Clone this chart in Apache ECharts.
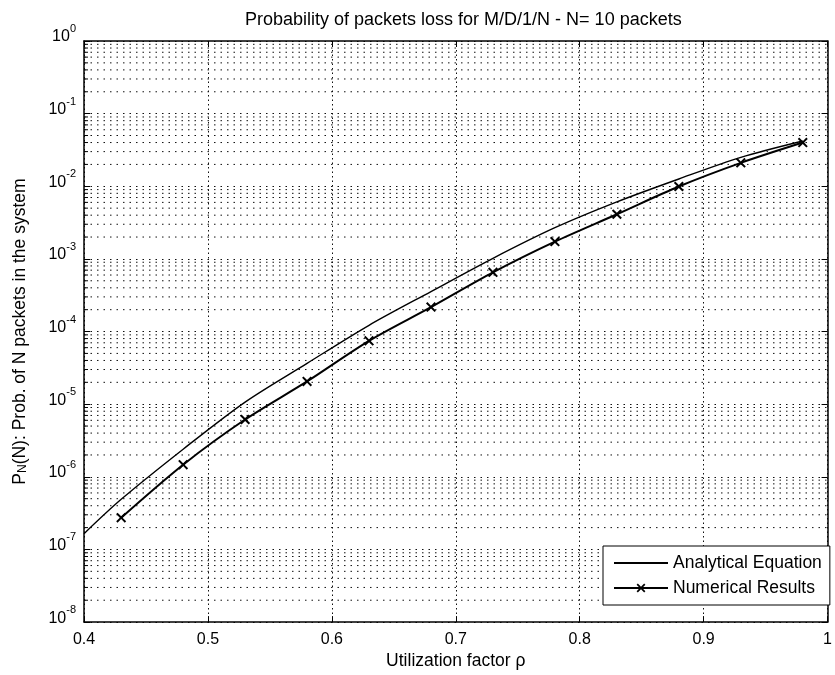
<!DOCTYPE html>
<html><head><meta charset="utf-8">
<script src="https://cdn.jsdelivr.net/npm/echarts@6/dist/echarts.min.js"></script>
<style>html,body{margin:0;padding:0;background:#fff}#c{width:835px;height:675px}</style>
</head><body><div id="c"></div>
<script>
// ---- data ----
const titleText = 'Probability of packets loss for M/D/1/N - N= 10 packets';
const xName = 'Utilization factor \u03c1';
const seriesNames = ['Analytical Equation', 'Numerical Results'];
const anaX = [0.40, 0.43, 0.48, 0.53, 0.58, 0.63, 0.68, 0.73, 0.78, 0.83, 0.88, 0.93, 0.98];
const anaY = [1.65e-7, 4.9e-7, 2.4e-6, 1.07e-5, 3.65e-5, 1.22e-4, 3.55e-4, 1.02e-3, 2.69e-3, 6.1e-3, 1.26e-2, 2.5e-2, 4.2e-2];
const numX = [0.43, 0.48, 0.53, 0.58, 0.63, 0.68, 0.73, 0.78, 0.83, 0.88, 0.93, 0.98];
const numY = [2.74e-7, 1.47e-6, 6.15e-6, 2.06e-5, 7.46e-5, 2.17e-4, 6.53e-4, 1.73e-3, 4.12e-3, 9.93e-3, 2.1e-2, 4.0e-2];
const xMin = 0.4, xMax = 1.0, xStep = 0.1;
const yMinExp = -8, yMaxExp = 0;
const minorMult = [2, 3, 4, 5, 6, 7, 8, 9];

const FONT = "'Liberation Sans', Arial, Helvetica, sans-serif";
const minorVals = [];
for (let k = yMinExp; k < yMaxExp; k++) minorMult.forEach(m => minorVals.push(m * Math.pow(10, k)));

const dotted = { color: '#111', width: 1, type: [1.5, 5] };

const chart = echarts.init(document.getElementById('c'), null, { renderer: 'canvas' });
chart.setOption({
  animation: false,
  backgroundColor: '#fff',
  textStyle: { fontFamily: FONT, color: '#000' },
  title: { text: titleText, left: 240, top: 6, textStyle: { fontFamily: FONT, fontSize: 18, fontWeight: 'normal', color: '#000' } },
  grid: { left: 84, right: -3, top: 41, bottom: 49, containLabel: false },
  legend: {
    orient: 'vertical', left: 603, top: 546,
    padding: [8, 8, 8, 10], itemGap: 7, itemWidth: 54, itemHeight: 11,
    backgroundColor: '#fff', borderColor: '#000', borderWidth: 1,
    textStyle: { fontFamily: FONT, fontSize: 17.5, color: '#000' },
    data: [{ name: seriesNames[0], itemStyle: { opacity: 0 } }, { name: seriesNames[1] }]
  },
  xAxis: [{
    type: 'value', min: xMin, max: xMax, interval: xStep,
    name: xName, nameLocation: 'middle', nameGap: 26,
    nameTextStyle: { fontFamily: FONT, fontSize: 17.5, color: '#000' },
    axisLine: { lineStyle: { color: '#000', width: 1.5 } },
    axisTick: { inside: true, length: 6, lineStyle: { color: '#000' } },
    axisLabel: { margin: 9, fontFamily: FONT, fontSize: 16, color: '#000', formatter: v => String(+v.toFixed(1)) },
    splitLine: { show: true, lineStyle: { color: '#111', width: 1, type: [1.5, 3] } }
  }, {
    type: 'value', min: xMin, max: xMax, interval: xStep, position: 'top',
    axisLine: { lineStyle: { color: '#000', width: 1.5 } },
    axisTick: { inside: true, length: 6, lineStyle: { color: '#000' } },
    axisLabel: { show: false }, splitLine: { show: false }
  }],
  yAxis: [{
    type: 'log', logBase: 10, min: Math.pow(10, yMinExp), max: Math.pow(10, yMaxExp), splitNumber: 8,
    name: 'P{sub|N}(N): Prob. of N packets in the system', nameLocation: 'middle', nameGap: 55,
    nameTextStyle: { fontFamily: FONT, fontSize: 17.5, color: '#000', rich: { sub: { fontFamily: FONT, fontSize: 12, lineHeight: 12, verticalAlign: 'bottom' } } },
    axisLine: { show: true, lineStyle: { color: '#000', width: 1.5 } },
    axisTick: { show: true, inside: true, length: 6, lineStyle: { color: '#000' } },
    axisLabel: {
      margin: 8, padding: [0, 0, 8, 0],
      formatter: v => '{b|10}{s|' + Math.round(Math.log10(v)) + '}',
      rich: {
        b: { fontFamily: FONT, fontSize: 16, lineHeight: 27, verticalAlign: 'middle', color: '#000' },
        s: { fontFamily: FONT, fontSize: 11, lineHeight: 11, verticalAlign: 'top', color: '#000' }
      }
    },
    splitLine: { show: true, lineStyle: dotted }
  }, {
    type: 'log', logBase: 10, min: Math.pow(10, yMinExp), max: Math.pow(10, yMaxExp), splitNumber: 8, position: 'right',
    axisLine: { show: true, lineStyle: { color: '#000', width: 1.5 } },
    axisTick: { show: true, inside: true, length: 6 }, axisLabel: { show: false }, splitLine: { show: false }
  }],
  series: [{
    type: 'custom', xAxisIndex: 0, yAxisIndex: 0, silent: true, z: 1, clip: false,
    data: minorVals.map(v => [xMin, v]),
    renderItem: (params, api) => {
      const v = api.value(1);
      const p1 = api.coord([xMin, v]);
      const p2 = api.coord([xMax, v]);
      return {
        type: 'group', children: [
          { type: 'line', shape: { x1: p1[0], y1: p1[1], x2: p2[0], y2: p2[1] }, style: { stroke: '#111', lineWidth: 1, lineDash: [1.5, 5] } },
          { type: 'line', shape: { x1: p1[0], y1: p1[1], x2: p1[0] + 4, y2: p1[1] }, style: { stroke: '#000', lineWidth: 1 } }
        ]
      };
    }
  }, {
    name: seriesNames[0], type: 'line', xAxisIndex: 0, yAxisIndex: 0,
    data: anaX.map((x, i) => [x, anaY[i]]), smooth: 0.3, showSymbol: false, symbol: 'none',
    lineStyle: { color: '#000', width: 1.4 }, itemStyle: { color: '#000' }, z: 5
  }, {
    name: seriesNames[1], type: 'line', xAxisIndex: 0, yAxisIndex: 0,
    data: numX.map((x, i) => [x, numY[i]]), smooth: 0.3,
    symbol: 'path://M0,1.4 L1.4,0 L5,3.6 L8.6,0 L10,1.4 L6.4,5 L10,8.6 L8.6,10 L5,6.4 L1.4,10 L0,8.6 L3.6,5 Z', symbolSize: 10,
    lineStyle: { color: '#000', width: 2 }, itemStyle: { color: '#000' }, z: 6
  }]
});
</script></body></html>
